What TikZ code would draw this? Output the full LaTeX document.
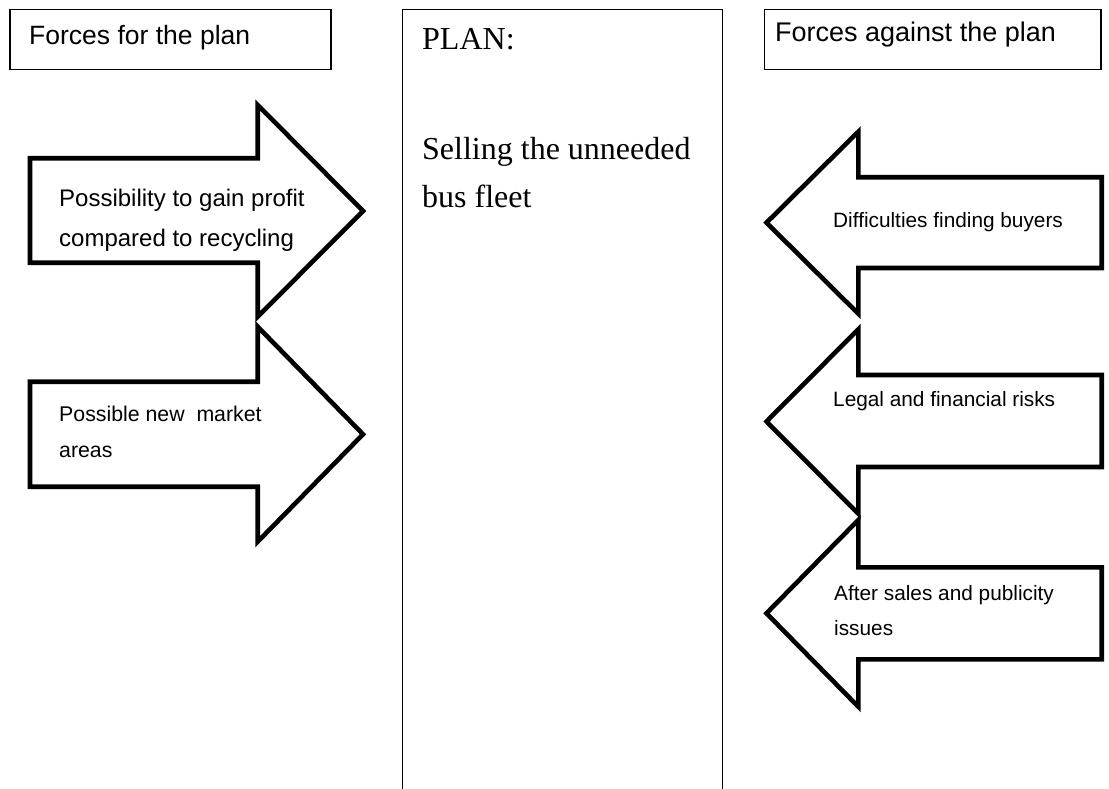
\documentclass[tikz,border=0pt]{standalone}
\usepackage{fontspec}
\setmainfont{Liberation Sans}
\newfontfamily\planfont{Liberation Serif}
\begin{document}
\begin{tikzpicture}[x=1pt,y=-1pt,
  hdrbox/.style={draw,line width=1.1pt},
  colbox/.style={draw,line width=1.3pt},
  force/.style={draw,line width=4.6pt,line join=miter},
  lbl/.style={anchor=base west,inner sep=0pt},
  confont/.style={font=\fontsize{20.8}{35}\selectfont},
]
\useasboundingbox (0,0) rectangle (1109,789);

% column headers
\draw[hdrbox] (10,9.5) rectangle (331,69.5);
\node[lbl,font=\fontsize{26.5}{31}\selectfont] (fortitle) at (29,45) {Forces for the plan};
\draw[hdrbox] (764.3,9.5) rectangle (1101,69.5);
\node[lbl,font=\fontsize{27}{31}\selectfont] (againsttitle) at (775,42) {Forces against the plan};

% central plan column, open at the bottom
\draw[colbox] (402.3,789) -- (402.3,9.3) -- (722.7,9.3) -- (722.7,789);
\node[lbl,font=\planfont\fontsize{32}{38}\selectfont] (plantitle) at (422,49.3) {PLAN:};
\node[lbl,font=\planfont\fontsize{32}{48}\selectfont] (plantext) at (422,160)
  {\begin{tabular}[t]{@{}l@{}}Selling the unneeded\\ bus fleet\end{tabular}};

% forces for the plan (pointing right)
\draw[force] (30,158.3) -- (257.7,158.3) -- (257.7,105) -- (363,211)
  -- (257.7,316.7) -- (257.7,262.7) -- (30,262.7) -- cycle;
\node[lbl,font=\fontsize{24}{40.7}\selectfont] (pro1) at (59,206)
  {\begin{tabular}[t]{@{}l@{}}Possibility to gain profit\\ compared to recycling\end{tabular}};

\draw[force] (30,381.7) -- (257.7,381.7) -- (257.7,326.7) -- (363,434.3)
  -- (257.7,541.7) -- (257.7,486.7) -- (30,486.7) -- cycle;
\node[lbl,font=\fontsize{21.3}{36}\selectfont] (pro2) at (59,421)
  {\begin{tabular}[t]{@{}l@{}}Possible new~~market\\ areas\end{tabular}};

% forces against the plan (pointing left)
\draw[force] (1101.7,177.3) -- (858.3,177.3) -- (858.3,131.7) -- (766.5,222.7)
  -- (858.3,313.7) -- (858.3,268) -- (1101.7,268) -- cycle;
\node[lbl,confont] (con1) at (833,227) {Difficulties finding buyers};

\draw[force] (1101.7,375) -- (858.3,375) -- (858.3,329.3) -- (766.5,421.5)
  -- (858.3,513.7) -- (858.3,467) -- (1101.7,467) -- cycle;
\node[lbl,confont] (con2) at (833,406.7) {Legal and financial risks};

\draw[force] (1101.7,567.3) -- (858.3,567.3) -- (858.3,520) -- (766.5,613.3)
  -- (858.3,706.7) -- (858.3,659.3) -- (1101.7,659.3) -- cycle;
\node[lbl,confont] (con3) at (834,600)
  {\begin{tabular}[t]{@{}l@{}}After sales and publicity\\ issues\end{tabular}};
\end{tikzpicture}
\end{document}
